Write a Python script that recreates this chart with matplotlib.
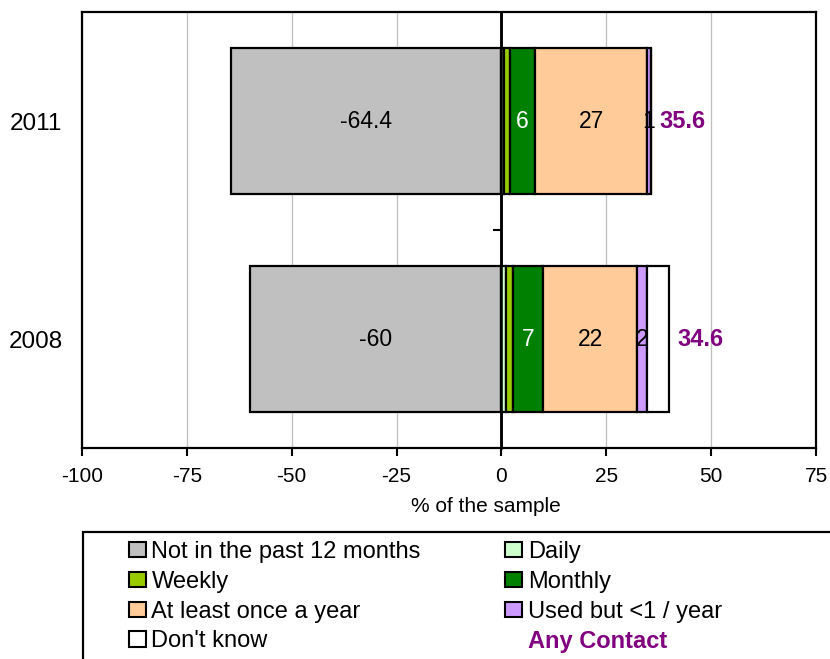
import matplotlib
matplotlib.use("Agg")
import matplotlib.pyplot as plt
from matplotlib.patches import Patch, Rectangle
import numpy as np

plt.rcParams['font.family'] = ['Liberation Sans', 'DejaVu Sans']
plt.rcParams['axes.unicode_minus'] = False

years = ["2011", "2008"]
not_past = [-64.4, -60.0]
daily = [0.6, 1.0]
weekly = [1.4, 1.8]
monthly = [6.0, 7.2]
yearly = [26.8, 22.3]
used = [0.8, 2.3]
dont_know = [0.1, 5.4]
any_contact = [35.6, 34.6]

series = [
    ("Daily", daily, "#CCFFCC", None),
    ("Weekly", weekly, "#99CC00", None),
    ("Monthly", monthly, "#008000", "white"),
    ("At least once a year", yearly, "#FFCC99", "black"),
    ("Used but <1 / year", used, "#CC99FF", "black"),
    ("Don't know", dont_know, "#FFFFFF", None),
]

FS = 16.5

fig = plt.figure(figsize=(8.30, 6.59), dpi=100)
ax = fig.add_axes([82/830, 1-448/659, (816-82)/830, (448-12)/659])

y = np.arange(len(years))
h = 0.67
ax.set_xlim(-100, 75)
ax.set_ylim(1.5, -0.5)

for xv in range(-100, 76, 25):
    ax.axvline(xv, color="#BFBFBF", lw=0.9, zorder=0)

ax.barh(y, not_past, height=h, color="#C0C0C0", edgecolor="black", lw=1.6, zorder=2)
for i, v in enumerate(not_past):
    ax.text(v/2, y[i], f"{v:g}", ha="center", va="center", fontsize=FS, color="black", zorder=5)

left = np.zeros(len(years))
for name, vals, col, lcol in series:
    vals = np.array(vals)
    ax.barh(y, vals, left=left, height=h, color=col, edgecolor="black", lw=1.6, zorder=2)
    if lcol:
        for i in range(len(years)):
            ax.text(left[i] + vals[i]/2, y[i], f"{round(vals[i]):d}", ha="center", va="center",
                    fontsize=FS, color=lcol, zorder=5)
    left = left + vals

for i in range(len(years)):
    ax.text(left[i] + 2.0, y[i], f"{any_contact[i]:.1f}", ha="left", va="center",
            fontsize=17, color="#800080", fontweight="bold", zorder=5)

ax.axvline(0, color="black", lw=1.8, zorder=3)

ax.set_yticks(y)
ax.set_yticklabels(years, fontsize=17.5)
ax.tick_params(axis="y", length=0, pad=14)
ax.set_xticks(range(-100, 76, 25))
ax.tick_params(axis="x", direction="out", length=6, width=1.5, labelsize=15, pad=8)
ax.set_xlabel("% of the sample", fontsize=15)
ax.xaxis.set_label_coords((486-82)/734, -(497-448)/436)
for s in ax.spines.values():
    s.set_linewidth(1.6)
    s.set_color("black")

# zero axis with tick marks between categories
frac = (0 - ax.get_xlim()[0]) / (ax.get_xlim()[1] - ax.get_xlim()[0])
sec = ax.secondary_yaxis(frac)
for s in sec.spines.values():
    s.set_linewidth(1.8)
sec.set_yticks([0.5])
sec.set_yticklabels([])
sec.tick_params(direction="in", length=6, width=1.5)

# legend frame
fig.patches.append(Rectangle((83/830, -0.05), 1.0, 0.05 + (659-532)/659, transform=fig.transFigure,
                             fill=False, edgecolor="black", lw=1.6, clip_on=False))

hnd = [
    Patch(facecolor="#C0C0C0", edgecolor="black", lw=1.5),
    Patch(facecolor="#99CC00", edgecolor="black", lw=1.5),
    Patch(facecolor="#FFCC99", edgecolor="black", lw=1.5),
    Patch(facecolor="#FFFFFF", edgecolor="black", lw=1.5),
    Patch(facecolor="#CCFFCC", edgecolor="black", lw=1.5),
    Patch(facecolor="#008000", edgecolor="black", lw=1.5),
    Patch(facecolor="#CC99FF", edgecolor="black", lw=1.5),
    Patch(facecolor="none", edgecolor="none"),
]
labs = ["Not in the past 12 months", "Weekly", "At least once a year", "Don't know",
        "Daily", "Monthly", "Used but <1 / year", "Any Contact"]
leg = fig.legend(hnd, labs, ncol=2, loc="upper left", bbox_to_anchor=(129/830, 1-541/659),
                 frameon=False, fontsize=17, handlelength=0.7, handleheight=0.62,
                 handletextpad=0.25, columnspacing=3.58, labelspacing=0.33, borderpad=0,
                 borderaxespad=0)
t = leg.get_texts()[-1]
t.set_color("#800080")
t.set_fontweight("bold")

fig.savefig("out.png", dpi=100)
